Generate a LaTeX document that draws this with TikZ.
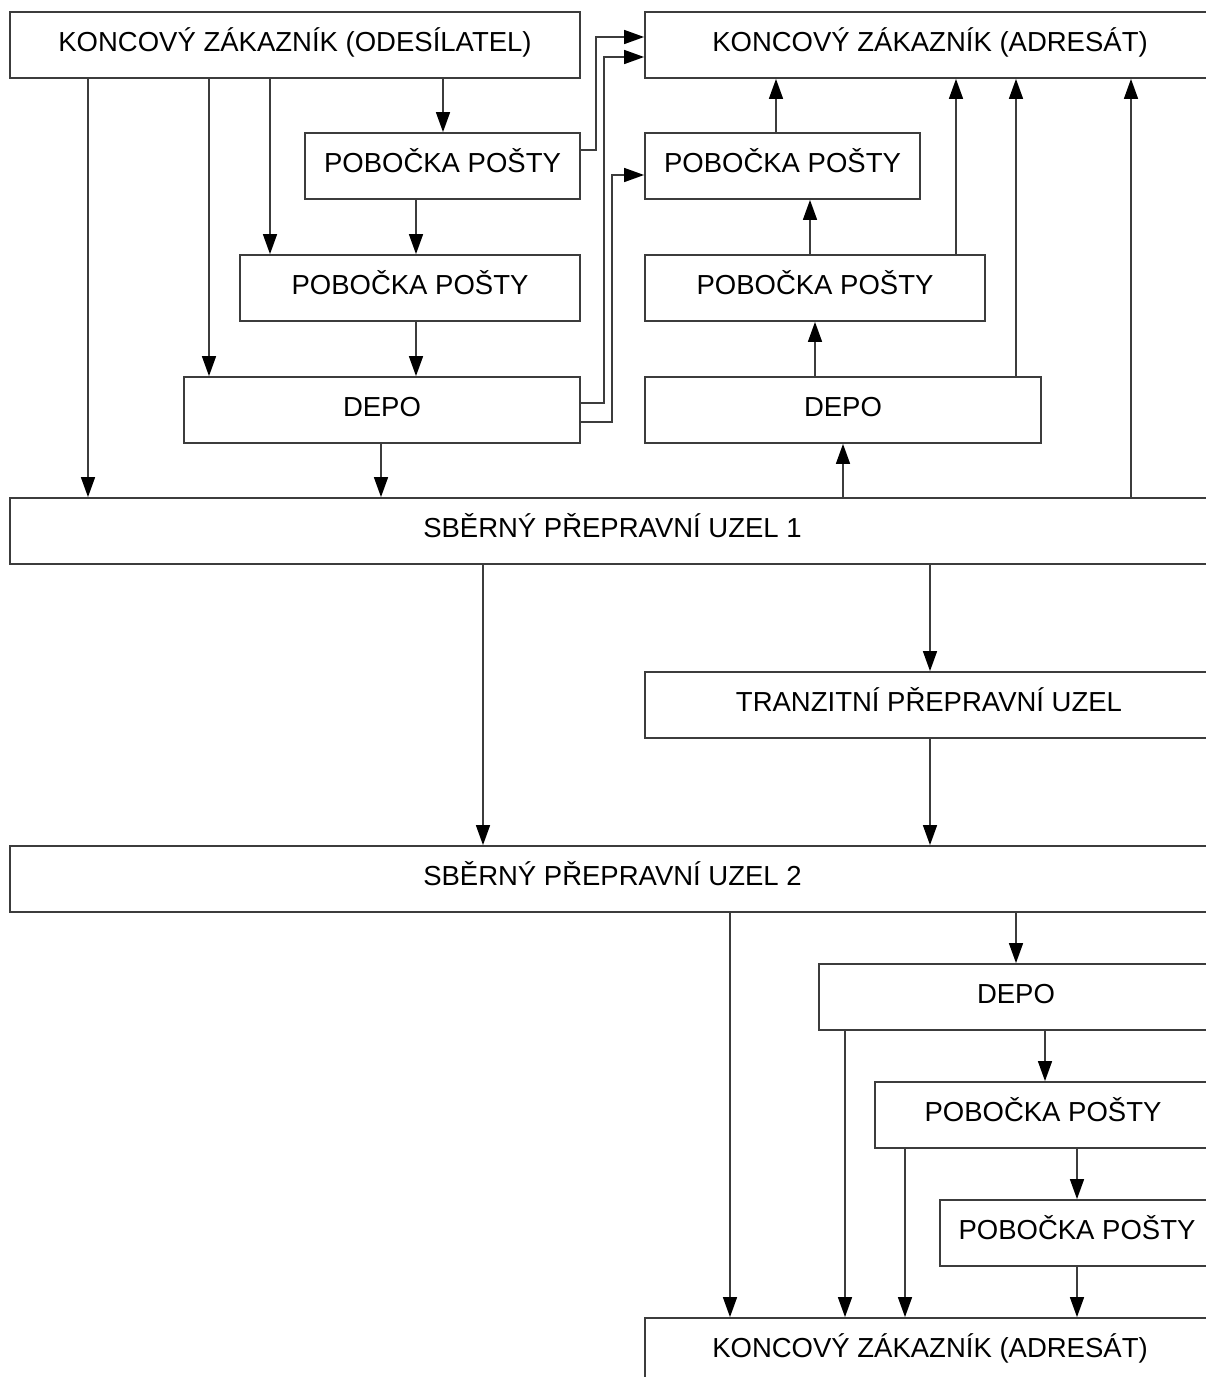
\documentclass[tikz,border=0pt]{standalone}
\usepackage{fontspec}
\setmainfont{Liberation Sans}
\usetikzlibrary{arrows.meta}
\definecolor{ln}{HTML}{3C3C3C}
\tikzset{
  box/.style={draw=ln, line width=1.8pt, anchor=north west, inner sep=0pt, outer sep=0pt,
    minimum height=66pt, text height=20pt, text depth=8pt,
    font=\fontsize{27.5}{30}\selectfont, text=black},
  arr/.style={draw=ln, line width=1.5pt, -{Triangle[length=20pt,width=14pt,color=black]}, shorten >=0.9pt},
}
\begin{document}
\begin{tikzpicture}[x=1pt,y=-1pt]
\useasboundingbox (0,0) rectangle (1206,1377);
\clip (0,0) rectangle (1206,1377);
% top row
\node[box, minimum width=570pt] (snd) at (10,12) {KONCOVÝ ZÁKAZNÍK (ODESÍLATEL)};
\node[box, minimum width=570pt] (rcv) at (645,12) {KONCOVÝ ZÁKAZNÍK (ADRESÁT)};
% left column
\node[box, minimum width=275pt] (pl1) at (305,133) {POBOČKA POŠTY};
\node[box, minimum width=340pt] (pl2) at (240,255) {POBOČKA POŠTY};
\node[box, minimum width=396pt] (dl) at (184,377) {DEPO};
% right column
\node[box, minimum width=275pt] (pr1) at (645,133) {POBOČKA POŠTY};
\node[box, minimum width=340pt] (pr2) at (645,255) {POBOČKA POŠTY};
\node[box, minimum width=396pt] (dr) at (645,377) {DEPO};
% hubs
\node[box, minimum width=1205pt] (s1) at (10,498) {SBĚRNÝ PŘEPRAVNÍ UZEL 1};
\node[box, minimum width=568pt] (tr) at (645,672) {TRANZITNÍ PŘEPRAVNÍ UZEL};
\node[box, minimum width=1205pt] (s2) at (10,846) {SBĚRNÝ PŘEPRAVNÍ UZEL 2};
% bottom cascade
\node[box, minimum width=394pt] (db) at (819,964) {DEPO};
\node[box, minimum width=336pt] (pb1) at (875,1082) {POBOČKA POŠTY};
\node[box, minimum width=274pt] (pb2) at (940,1200) {POBOČKA POŠTY};
\node[box, minimum width=570pt] (rb) at (645,1318) {KONCOVÝ ZÁKAZNÍK (ADRESÁT)};

% sender downwards
\draw[arr] (snd.south -| 88,0) -- (s1.north -| 88,0);
\draw[arr] (snd.south -| 209,0) -- (dl.north -| 209,0);
\draw[arr] (snd.south -| 270,0) -- (pl2.north -| 270,0);
\draw[arr] (snd.south -| 443,0) -- (pl1.north -| 443,0);
\draw[arr] (pl1.south -| 416,0) -- (pl2.north -| 416,0);
\draw[arr] (pl2.south -| 416,0) -- (dl.north -| 416,0);
\draw[arr] (dl.south -| 381,0) -- (s1.north -| 381,0);
% cross links
\draw[arr] (pl1.east |- 0,150) -| (596,37) -- (rcv.west |- 0,37);
\draw[arr] (dl.east |- 0,403) -| (604,57) -- (rcv.west |- 0,57);
\draw[arr] (dl.east |- 0,422) -| (612,175) -- (pr1.west |- 0,175);
% right column upwards
\draw[arr] (pr1.north -| 776,0) -- (rcv.south -| 776,0);
\draw[arr] (pr2.north -| 810,0) -- (pr1.south -| 810,0);
\draw[arr] (dr.north -| 815,0) -- (pr2.south -| 815,0);
\draw[arr] (s1.north -| 843,0) -- (dr.south -| 843,0);
\draw[arr] (pr2.north -| 956,0) -- (rcv.south -| 956,0);
\draw[arr] (dr.north -| 1016,0) -- (rcv.south -| 1016,0);
\draw[arr] (s1.north -| 1131,0) -- (rcv.south -| 1131,0);
% middle
\draw[arr] (s1.south -| 483,0) -- (s2.north -| 483,0);
\draw[arr] (s1.south -| 930,0) -- (tr.north -| 930,0);
\draw[arr] (tr.south -| 930,0) -- (s2.north -| 930,0);
% bottom
\draw[arr] (s2.south -| 730,0) -- (rb.north -| 730,0);
\draw[arr] (s2.south -| 1016,0) -- (db.north -| 1016,0);
\draw[arr] (db.south -| 845,0) -- (rb.north -| 845,0);
\draw[arr] (db.south -| 1045,0) -- (pb1.north -| 1045,0);
\draw[arr] (pb1.south -| 905,0) -- (rb.north -| 905,0);
\draw[arr] (pb1.south -| 1077,0) -- (pb2.north -| 1077,0);
\draw[arr] (pb2.south -| 1077,0) -- (rb.north -| 1077,0);
\end{tikzpicture}
\end{document}
